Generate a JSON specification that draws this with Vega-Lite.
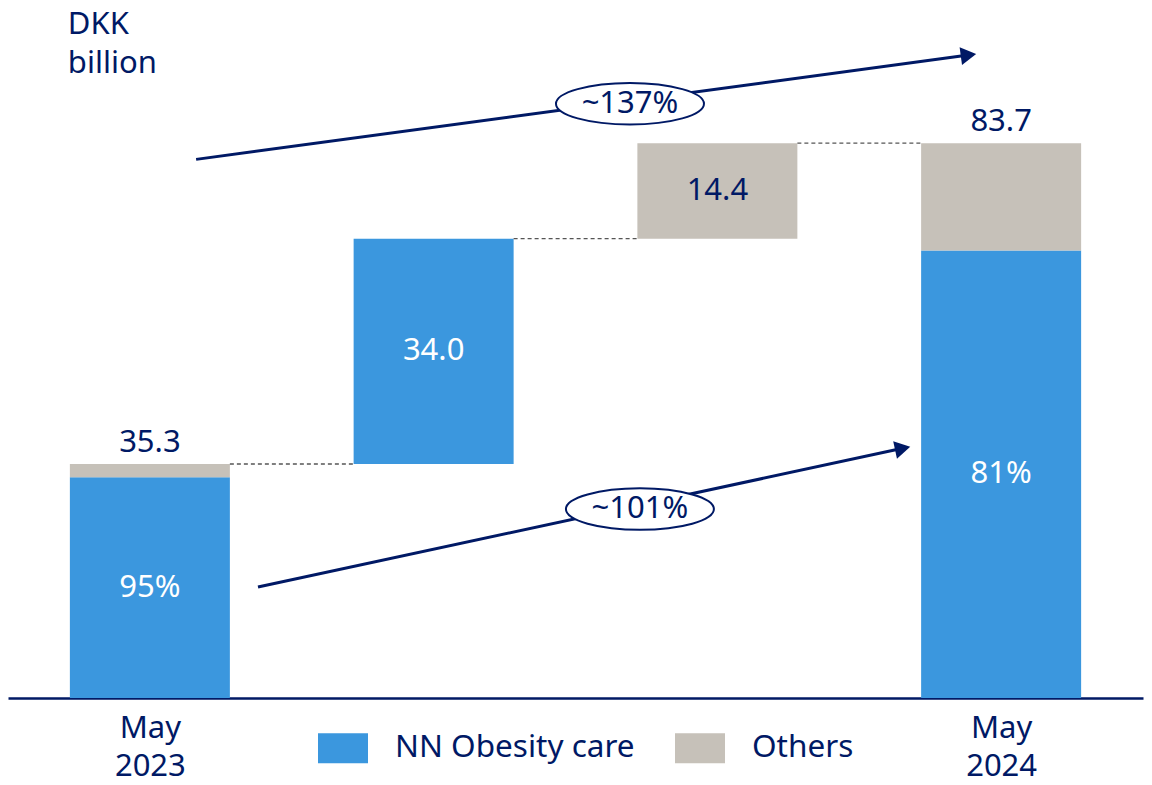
{
  "$schema": "https://vega.github.io/schema/vega-lite/v6.json",
  "width": 1135,
  "height": 696,
  "autosize": "none",
  "padding": {"left": 8, "top": 2, "right": 9, "bottom": 87},
  "background": "white",
  "config": {
    "view": {"stroke": null},
    "font": "Noto Sans",
    "text": {"font": "Noto Sans"},
    "axisX": {
      "title": null, "grid": false, "ticks": false,
      "domain": true, "domainColor": "#001965", "domainWidth": 2.5,
      "labelFont": "Noto Sans", "labelFontSize": 31, "labelColor": "#001965",
      "labelPadding": 15, "labelLineHeight": 38, "labelFlush": false, "labelOverlap": false
    }
  },
  "datasets": {
    "segments": [
      {"pos": 0, "category": "NN Obesity care", "start": 0, "end": 33.3, "label": "95%"},
      {"pos": 0, "category": "Others", "start": 33.3, "end": 35.3, "label": ""},
      {"pos": 1, "category": "NN Obesity care", "start": 35.3, "end": 69.3, "label": "34.0"},
      {"pos": 2, "category": "Others", "start": 69.3, "end": 83.7, "label": "14.4"},
      {"pos": 3, "category": "NN Obesity care", "start": 0, "end": 67.5, "label": "81%"},
      {"pos": 3, "category": "Others", "start": 67.5, "end": 83.7, "label": ""}
    ],
    "connectors": [
      {"from": 0, "to": 1, "level": 35.3},
      {"from": 1, "to": 2, "level": 69.3},
      {"from": 2, "to": 3, "level": 83.7}
    ],
    "totals": [
      {"pos": 0, "total": 35.3, "text": "35.3"},
      {"pos": 3, "total": 83.7, "text": "83.7"}
    ],
    "arrows": [
      {"name": "total", "xs": 0.163, "ys": 81.26, "xe": 2.885, "ye": 97.0, "angle": 352.3, "lx": 1.692, "ly": 89.65, "growth": "~137%"},
      {"name": "obesity", "xs": 0.381, "ys": 16.74, "xe": 2.653, "ye": 37.67, "angle": 347.86, "lx": 1.727, "ly": 28.5, "growth": "~101%"}
    ],
    "unit": [
      {"x": -0.289, "y": 100.2, "text": ["DKK", "billion"]}
    ]
  },
  "layer": [
    {
      "data": {"name": "segments"},
      "mark": {"type": "bar", "width": 160, "opacity": 1},
      "encoding": {
        "x": {
          "field": "pos", "type": "quantitative",
          "scale": {"domain": [-0.5, 3.5], "nice": false, "zero": false, "padding": 0},
          "axis": {"values": [0, 3], "labelExpr": "datum.value == 0 ? ['May', '2023'] : ['May', '2024']"}
        },
        "y": {"field": "end", "type": "quantitative", "scale": {"domain": [0, 105], "nice": false, "padding": 0}, "axis": null},
        "y2": {"field": "start"},
        "color": {
          "field": "category", "type": "nominal",
          "scale": {"domain": ["NN Obesity care", "Others"], "range": ["#3B97DE", "#C6C1B9"]},
          "legend": {
            "title": null, "orient": "none", "direction": "horizontal",
            "legendX": 310, "legendY": 721, "padding": 0,
            "symbolType": "M-1,-0.6H1V0.6H-1Z", "symbolSize": 2500, "symbolStrokeWidth": 0, "symbolOpacity": 1,
            "labelFont": "Noto Sans", "labelFontSize": 31.5, "labelColor": "#001965",
            "labelOffset": 27, "columnPadding": 40, "labelLimit": 400
          }
        }
      }
    },
    {
      "data": {"name": "connectors"},
      "transform": [
        {"calculate": "datum.from + 0.2819", "as": "edgeLeft"},
        {"calculate": "datum.to - 0.2819", "as": "edgeRight"}
      ],
      "mark": {"type": "rule", "color": "#555555", "strokeWidth": 1.3, "strokeDash": [4, 3]},
      "encoding": {
        "x": {"field": "edgeLeft", "type": "quantitative", "scale": {"domain": [-0.5, 3.5], "nice": false, "zero": false, "padding": 0},
              "axis": {"values": [0, 3], "labelExpr": "datum.value == 0 ? ['May', '2023'] : ['May', '2024']"}},
        "x2": {"field": "edgeRight"},
        "y": {"field": "level", "type": "quantitative", "scale": {"domain": [0, 105], "nice": false, "padding": 0}, "axis": null}
      }
    },
    {
      "data": {"name": "arrows"},
      "mark": {"type": "rule", "color": "#001965", "strokeWidth": 3},
      "encoding": {
        "x": {"field": "xs", "type": "quantitative", "scale": {"domain": [-0.5, 3.5], "nice": false, "zero": false, "padding": 0},
              "axis": {"values": [0, 3], "labelExpr": "datum.value == 0 ? ['May', '2023'] : ['May', '2024']"}},
        "x2": {"field": "xe"},
        "y": {"field": "ys", "type": "quantitative", "scale": {"domain": [0, 105], "nice": false, "padding": 0}, "axis": null},
        "y2": {"field": "ye"}
      }
    },
    {
      "data": {"name": "arrows"},
      "mark": {"type": "point", "shape": "triangle-right", "filled": true, "color": "#001965", "size": 320, "opacity": 1},
      "encoding": {
        "x": {"field": "xe", "type": "quantitative", "scale": {"domain": [-0.5, 3.5], "nice": false, "zero": false, "padding": 0},
              "axis": {"values": [0, 3], "labelExpr": "datum.value == 0 ? ['May', '2023'] : ['May', '2024']"}},
        "y": {"field": "ye", "type": "quantitative", "scale": {"domain": [0, 105], "nice": false, "padding": 0}, "axis": null},
        "angle": {"field": "angle", "type": "quantitative", "scale": null}
      }
    },
    {
      "data": {"name": "arrows"},
      "mark": {
        "type": "point",
        "shape": "M1,0C1,0.1546 0.5523,0.28 0,0.28C-0.5523,0.28 -1,0.1546 -1,0C-1,-0.1546 -0.5523,-0.28 0,-0.28C0.5523,-0.28 1,-0.1546 1,0Z",
        "filled": false, "fill": "white", "fillOpacity": 1, "stroke": "#001965", "strokeWidth": 2, "size": 21904, "opacity": 1
      },
      "encoding": {
        "x": {"field": "lx", "type": "quantitative", "scale": {"domain": [-0.5, 3.5], "nice": false, "zero": false, "padding": 0},
              "axis": {"values": [0, 3], "labelExpr": "datum.value == 0 ? ['May', '2023'] : ['May', '2024']"}},
        "y": {"field": "ly", "type": "quantitative", "scale": {"domain": [0, 105], "nice": false, "padding": 0}, "axis": null}
      }
    },
    {
      "data": {"name": "arrows"},
      "mark": {"type": "text", "font": "Noto Sans", "fontSize": 31, "color": "#001965", "baseline": "middle", "align": "center"},
      "encoding": {
        "x": {"field": "lx", "type": "quantitative", "scale": {"domain": [-0.5, 3.5], "nice": false, "zero": false, "padding": 0},
              "axis": {"values": [0, 3], "labelExpr": "datum.value == 0 ? ['May', '2023'] : ['May', '2024']"}},
        "y": {"field": "ly", "type": "quantitative", "scale": {"domain": [0, 105], "nice": false, "padding": 0}, "axis": null},
        "text": {"field": "growth"}
      }
    },
    {
      "data": {"name": "segments"},
      "transform": [
        {"filter": "datum.label != ''"},
        {"calculate": "(datum.start + datum.end) / 2", "as": "mid"}
      ],
      "mark": {"type": "text", "font": "Noto Sans", "fontSize": 31, "baseline": "middle", "align": "center"},
      "encoding": {
        "x": {"field": "pos", "type": "quantitative", "scale": {"domain": [-0.5, 3.5], "nice": false, "zero": false, "padding": 0},
              "axis": {"values": [0, 3], "labelExpr": "datum.value == 0 ? ['May', '2023'] : ['May', '2024']"}},
        "y": {"field": "mid", "type": "quantitative", "scale": {"domain": [0, 105], "nice": false, "padding": 0}, "axis": null},
        "text": {"field": "label"},
        "color": {"condition": {"test": "datum.category === 'Others'", "value": "#001965"}, "value": "white"}
      }
    },
    {
      "data": {"name": "totals"},
      "mark": {"type": "text", "font": "Noto Sans", "fontSize": 31, "color": "#001965", "baseline": "alphabetic", "align": "center", "dy": -12},
      "encoding": {
        "x": {"field": "pos", "type": "quantitative", "scale": {"domain": [-0.5, 3.5], "nice": false, "zero": false, "padding": 0},
              "axis": {"values": [0, 3], "labelExpr": "datum.value == 0 ? ['May', '2023'] : ['May', '2024']"}},
        "y": {"field": "total", "type": "quantitative", "scale": {"domain": [0, 105], "nice": false, "padding": 0}, "axis": null},
        "text": {"field": "text"}
      }
    },
    {
      "data": {"name": "unit"},
      "mark": {"type": "text", "font": "Noto Sans", "fontSize": 31, "color": "#001965", "baseline": "alphabetic", "align": "left", "lineHeight": 39},
      "encoding": {
        "x": {"field": "x", "type": "quantitative", "scale": {"domain": [-0.5, 3.5], "nice": false, "zero": false, "padding": 0},
              "axis": {"values": [0, 3], "labelExpr": "datum.value == 0 ? ['May', '2023'] : ['May', '2024']"}},
        "y": {"field": "y", "type": "quantitative", "scale": {"domain": [0, 105], "nice": false, "padding": 0}, "axis": null},
        "text": {"field": "text"}
      }
    }
  ]
}
